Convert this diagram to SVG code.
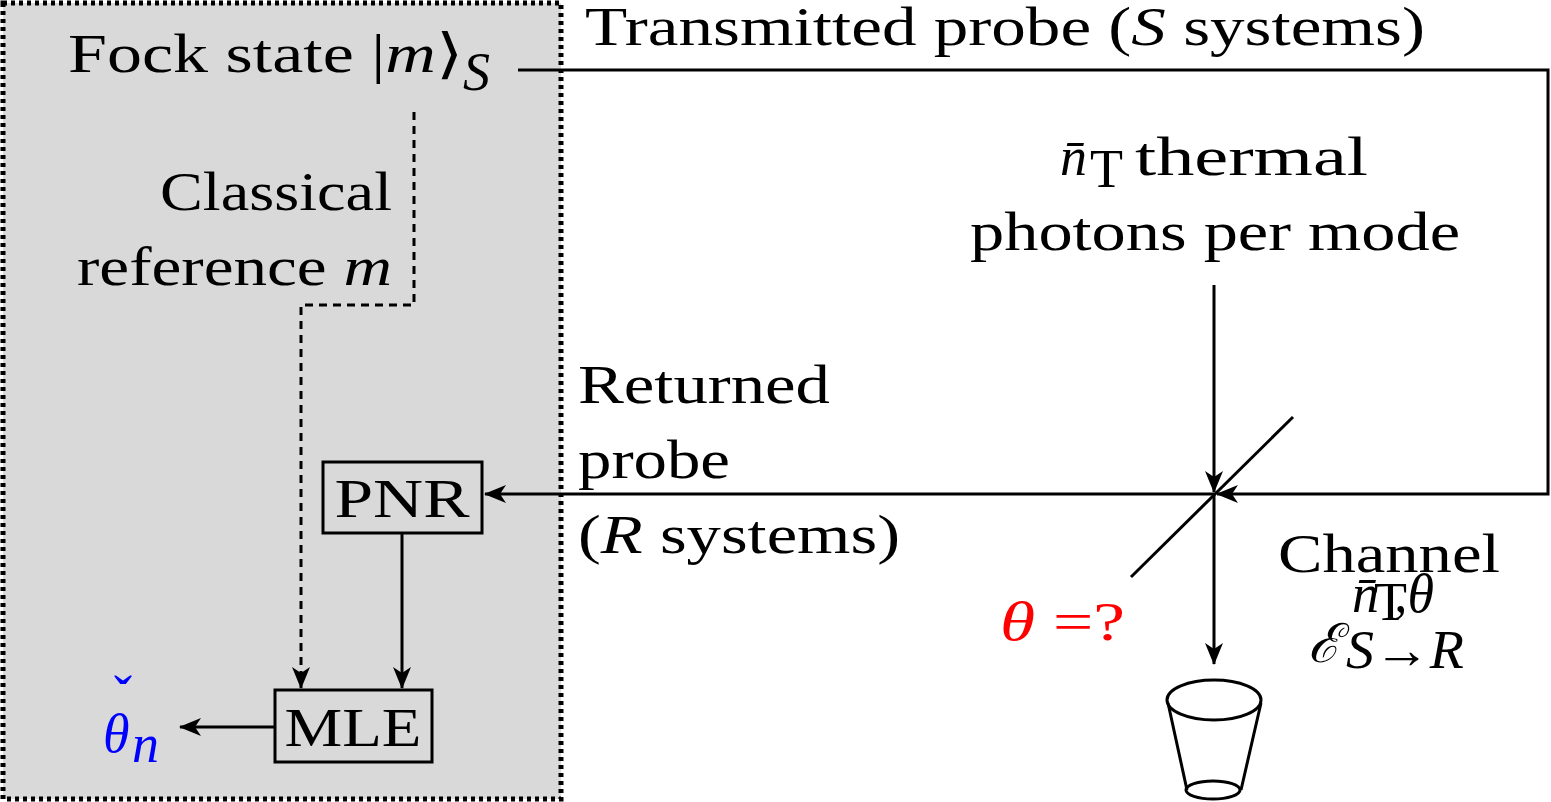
<svg xmlns="http://www.w3.org/2000/svg" width="1551" height="802" viewBox="0 0 1551 802">
<style>
text{font-family:"Liberation Serif",serif;font-size:54px;fill:#000}
.l{stroke:#000;stroke-width:3;fill:none}
.i{font-style:italic}
</style>
<defs>
<marker id="a" markerWidth="22" markerHeight="18" refX="21" refY="9" orient="auto" markerUnits="userSpaceOnUse">
<path d="M0,0 L22,9 L0,18 L6,9 Z" fill="#000"/>
</marker>
</defs>
<rect x="3" y="3" width="558" height="796" fill="#d9d9d9" stroke="#000" stroke-width="5" stroke-dasharray="4,4"/>
<g id="connectors">
<path class="l" d="M518,70 H1548 V494 H1217" marker-end="url(#a)"/>
<path class="l" d="M1214,285 V492" marker-end="url(#a)"/>
<path class="l" d="M1131,577 L1293,417"/>
<path class="l" d="M1214,494 V664" marker-end="url(#a)"/>
<path class="l" d="M1214,494 H485" marker-end="url(#a)"/>
<path class="l" d="M402,533 V688" marker-end="url(#a)"/>
<path class="l" d="M414,112 V305 H301 V688" stroke-dasharray="8,6" marker-end="url(#a)"/>
<path class="l" d="M275,727 H180" marker-end="url(#a)"/>
</g>
<g id="fock"><text x="68" y="72" textLength="395" lengthAdjust="spacingAndGlyphs">Fock state |<tspan class="i">m</tspan>⟩</text><text x="463" y="90" class="i" font-size="38">S</text></g>
<g id="classical"><text x="392" y="210" text-anchor="end" textLength="232" lengthAdjust="spacingAndGlyphs">Classical</text><text x="392" y="285" text-anchor="end" textLength="315" lengthAdjust="spacingAndGlyphs">reference <tspan class="i">m</tspan></text></g>
<g id="PNR"><rect x="323" y="462" width="159" height="71" class="l"/><text x="402" y="517" text-anchor="middle" textLength="135" lengthAdjust="spacingAndGlyphs">PNR</text></g>
<g id="MLE"><rect x="275" y="690" width="157" height="72" class="l"/><text x="353" y="746" text-anchor="middle" textLength="137" lengthAdjust="spacingAndGlyphs">MLE</text></g>
<g id="thetan"><text x="103" y="752" class="i" style="fill:#0000ff">θ</text><text x="114" y="714" font-size="34" style="fill:#0000ff">ˇ</text><text x="132" y="762" class="i" font-size="38" style="fill:#0000ff">n</text></g>
<g id="transmitted"><text x="585" y="45" textLength="840" lengthAdjust="spacingAndGlyphs">Transmitted probe (<tspan class="i">S</tspan> systems)</text></g>
<g id="thermal"><text x="1060" y="175" class="i">n̄</text><text x="1090" y="187" font-size="38">T</text><text x="1135" y="175" textLength="233" lengthAdjust="spacingAndGlyphs">thermal</text><text x="970" y="250" textLength="490" lengthAdjust="spacingAndGlyphs">photons per mode</text></g>
<g id="returned"><text x="578" y="403" textLength="252" lengthAdjust="spacingAndGlyphs">Returned</text><text x="578" y="478" textLength="152" lengthAdjust="spacingAndGlyphs">probe</text><text x="578" y="553" textLength="322" lengthAdjust="spacingAndGlyphs">(<tspan class="i">R</tspan> systems)</text></g>
<g id="theta"><text x="1000" y="640" textLength="125" lengthAdjust="spacingAndGlyphs" style="fill:#ff0000"><tspan class="i">θ</tspan> =?</text></g>
<g id="channel"><text x="1278" y="572" textLength="222" lengthAdjust="spacingAndGlyphs">Channel</text>
<text x="1308" y="662" class="i" font-size="58">ℰ</text>
<text x="1352" y="612" class="i" font-size="36">n̄</text><text x="1374" y="620" font-size="24">T</text><text x="1394" y="612" class="i" font-size="34">,θ</text>
<text x="1346" y="668" class="i" font-size="38" textLength="118" lengthAdjust="spacingAndGlyphs">S→R</text></g>
<g id="bucket">
<ellipse cx="1214" cy="700" rx="47" ry="20" class="l"/>
<ellipse cx="1213" cy="790" rx="27" ry="9" class="l"/>
<path class="l" d="M1168,703 L1187,790 M1261,703 L1241,790"/>
</g>
</svg>
